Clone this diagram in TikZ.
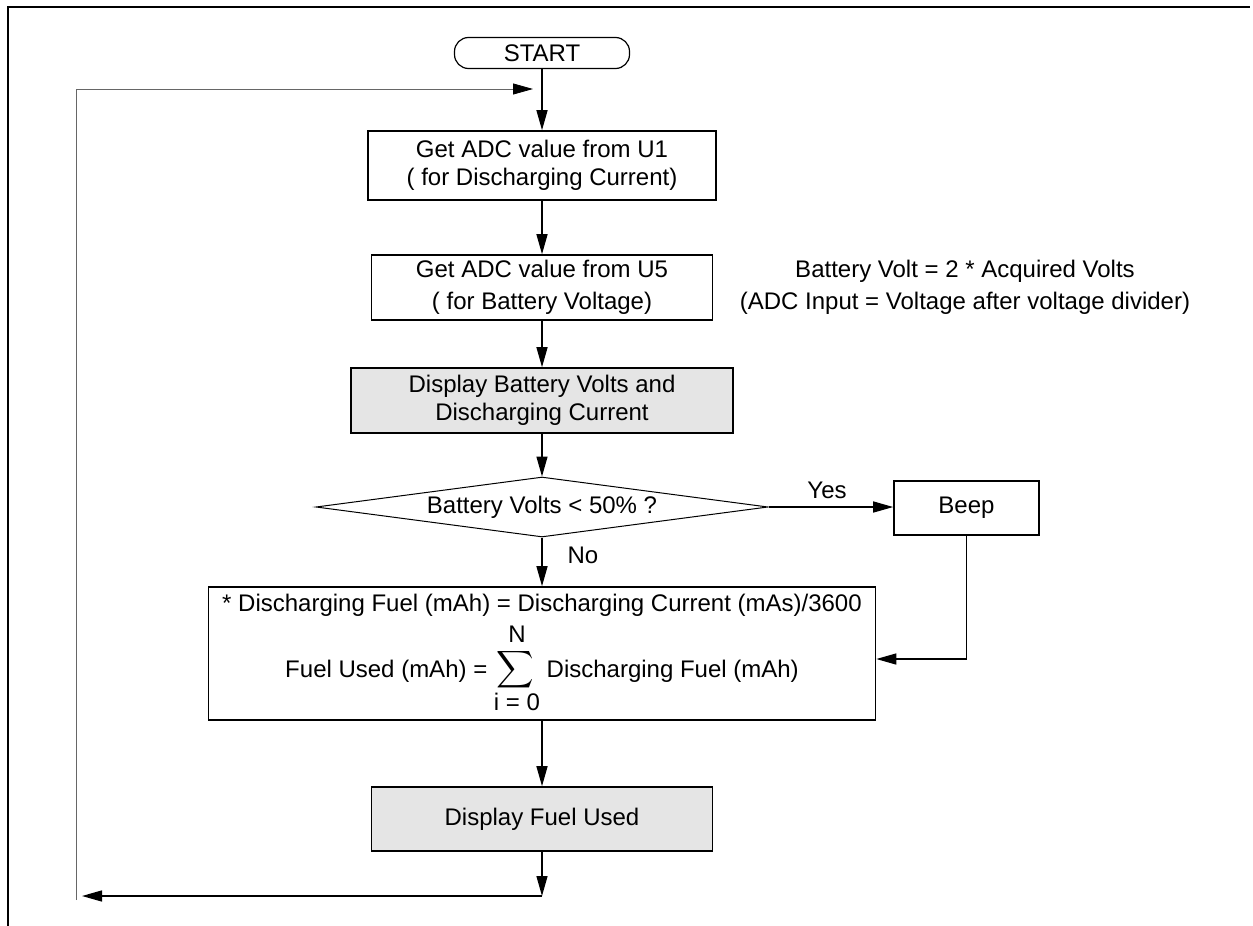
\documentclass[tikz,border=0pt]{standalone}
\usepackage{fontspec}
\setmainfont{Liberation Sans}
\usetikzlibrary{arrows.meta,shapes.geometric}
\tikzset{
	box/.style={draw,rectangle,align=center,line width=0.8pt,inner sep=2pt},
	shaded/.style={box,fill=black!10},
	terminal/.style={draw,rectangle,rounded corners=7pt,line width=0.6pt,minimum width=87.5pt,minimum height=15.5pt,inner sep=1pt},
	decision/.style={draw,diamond,shape aspect=7.5,inner sep=0pt,line width=0.5pt,minimum width=226pt,minimum height=30pt},
	flow/.style={-{Triangle[length=10pt,width=5.5pt]},line width=0.7pt},
	loopline/.style={draw=black!60,line width=0.4pt,-{Triangle[length=10pt,width=5.5pt,color=black]}},
	frame/.style={line width=0.9pt}
}
\begin{document}
\begin{tikzpicture}[x=0.5pt,y=-0.5pt,font=\fontsize{12pt}{14pt}\selectfont]
			\useasboundingbox (0,0) rectangle (1253,926);
			\draw[frame] (8,926) -- (8,7) -- (1250,7);
			\node[terminal] (start) at (542,53) {START};
			\node[box,minimum width=174pt,minimum height=34.5pt] (adcI) at (542,165.5) {Get ADC value from U1\\( for Discharging Current)};
			\node[box,minimum width=170.5pt,minimum height=32.5pt] (adcV) at (542,287.5) {Get ADC value from U5\\[2pt]( for Battery Voltage)};
			\node[align=center] (note) at (965,287.5) {Battery Volt = 2 * Acquired Volts\\[2pt](ADC Input = Voltage after voltage divider)};
			\node[shaded,minimum width=191pt,minimum height=32.5pt] (showV) at (542,400.5) {Display Battery Volts and\\Discharging Current};
			\node[decision] (low) at (542,507) {Battery Volts < 50\% ?};
			\node[box,minimum width=72.5pt,minimum height=27pt] (beep) at (966.5,508) {Beep};
			\node (yes) at (827,490) {Yes};
			\node (no) at (583,555) {No};
			\node[box,minimum width=333.5pt,minimum height=66.5pt] (fuel) at (542,653.5) {* Discharging Fuel (mAh) = Discharging Current (mAs)/3600\\[3pt]
				Fuel Used (mAh) = $\mathop{\scalebox{1.3}{$\displaystyle\sum$}}\limits_{\mbox{i = 0}}^{\raisebox{1pt}{N}}$ Discharging Fuel (mAh)};
			\node[shaded,minimum width=170.5pt,minimum height=32pt] (showF) at (542,819) {Display Fuel Used};
			\node[coordinate] (ret) at (542,896) {};
			\node[coordinate] (retL) at (82,896) {};
			\node[coordinate] (loopB) at (76,900) {};
			\node[coordinate] (loopT) at (76,89) {};
			\node[coordinate] (loopE) at (533,89) {};
			\draw[flow] (start) -- (adcI);
			\draw[flow] (adcI) -- (adcV);
			\draw[flow] (adcV) -- (showV);
			\draw[flow] (showV) -- (low);
			\draw[flow] (low.east) -- (low.east -| beep.west);
			\draw[flow] (low) -- (fuel);
			\draw[flow] (beep.south) |- (fuel.east |- 0,659);
			\draw[flow] (fuel) -- (showF);
			\draw[flow] (showF) -- (ret);
			\draw[flow] (ret) -- (retL);
			\draw[loopline] (loopB) -- (loopT) -- (loopE);
		\end{tikzpicture}
\end{document}
